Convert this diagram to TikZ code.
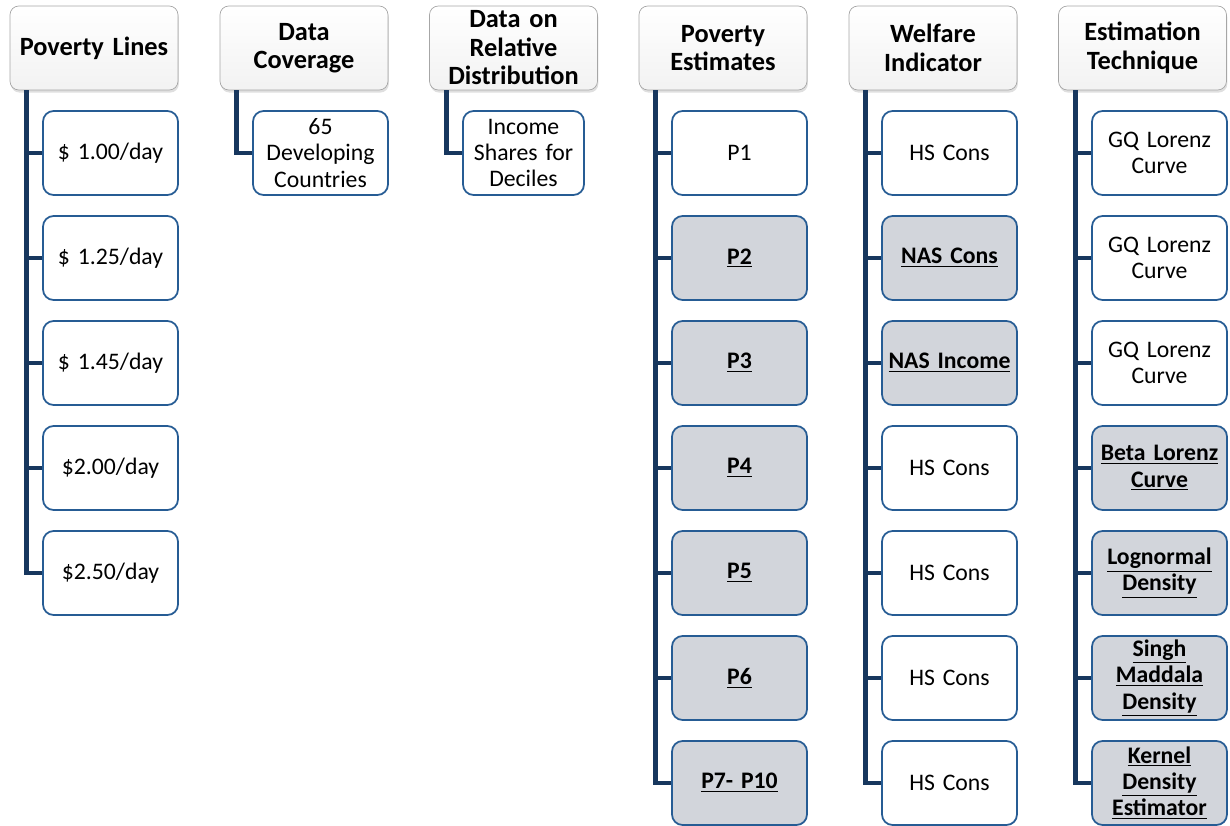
\documentclass[tikz,border=0pt]{standalone}
\usepackage{fontspec}
\setmainfont{Carlito}
\usetikzlibrary{positioning,calc,shadows}

\definecolor{barblue}{RGB}{23,55,94}
\definecolor{boxblue}{RGB}{38,92,148}
\definecolor{shadegray}{RGB}{210,213,219}

\tikzset{
    head/.style={draw=gray!70, rounded corners=5pt, top color=white, bottom color=gray!10,
        minimum width=3.36cm, minimum height=1.68cm, text width=3.25cm, inner sep=0pt,
        align=center, font=\fontsize{15}{16.2}\selectfont\bfseries,
        drop shadow={opacity=0.25, shadow xshift=0.5pt, shadow yshift=-1.5pt}},
    leaf/.style={draw=boxblue, line width=1pt, rounded corners=6pt, fill=white,
        minimum width=2.7cm, minimum height=1.68cm, text width=2.6cm, inner sep=0pt,
        align=center, font=\fontsize{13.5}{15}\selectfont},
    hot/.style={leaf, fill=shadegray, font=\fontsize{13.5}{15}\selectfont\bfseries},
    bar/.style={barblue, line width=2.8pt}
}

\begin{document}
\begin{tikzpicture}[x=0.02cm, y=-0.02cm]
    \useasboundingbox (0,0) rectangle (1230,825);

    % Headers
    \node[head] (pl) at (94,48) {Poverty Lines};
    \node[head] (dc) at (304,48) {Data\\Coverage};
    \node[head] (rd) at (513.5,48) {Data on\\Relative\\Distribution};
    \node[head] (pe) at (723,48) {Poverty\\Estimates};
    \node[head] (wi) at (933,48) {Welfare\\Indicator};
    \node[head] (et) at (1142.5,48) {Estimation\\Technique};

    % Poverty lines
    \foreach \t [count=\i] in {\$ 1.00/day, \$ 1.25/day, \$ 1.45/day, \$2.00/day, \$2.50/day}
        \node[leaf] (pl\i) at (110.5,48+105*\i) {\t};

    % Coverage and distribution
    \node[leaf] (dc1) at (320.5,153) {65\\Developing\\Countries};
    \node[leaf, minimum width=2.42cm, text width=2.3cm] (rd1) at (523.5,153) {Income\\Shares for\\Deciles};

    % Poverty estimates
    \node[leaf] (pe1) at (739.5,153) {P1};
    \foreach \i in {2,...,6}
        \node[hot] (pe\i) at (739.5,48+105*\i) {\underline{P\i}};
    \node[hot] (pe7) at (739.5,783) {\underline{P7- P10}};

    % Welfare indicator
    \node[leaf] (wi1) at (949.5,153) {HS Cons};
    \node[hot] (wi2) at (949.5,258) {\underline{NAS Cons}};
    \node[hot] (wi3) at (949.5,363) {\underline{NAS Income}};
    \foreach \i in {4,...,7}
        \node[leaf] (wi\i) at (949.5,48+105*\i) {HS Cons};

    % Estimation technique
    \foreach \i in {1,2,3}
        \node[leaf] (et\i) at (1159.5,48+105*\i) {GQ Lorenz\\Curve};
    \node[hot] (et4) at (1159.5,468) {\underline{Beta Lorenz}\\\underline{Curve}};
    \node[hot] (et5) at (1159.5,573) {\underline{Lognormal}\\\underline{Density}};
    \node[hot] (et6) at (1159.5,678) {\underline{Singh}\\\underline{Maddala}\\\underline{Density}};
    \node[hot] (et7) at (1159.5,783) {\underline{Kernel}\\\underline{Density}\\\underline{Estimator}};

    % Connectors
    \foreach \i in {1,...,5}
        \draw[bar] ($(pl.south west)+(17,0)$) |- (pl\i.west);
    \draw[bar] ($(dc.south west)+(17,0)$) |- (dc1.west);
    \draw[bar] ($(rd.south west)+(17,0)$) |- (rd1.west);
    \foreach \c in {pe,wi,et}
        \foreach \i in {1,...,7}
            \draw[bar] ($(\c.south west)+(17,0)$) |- (\c\i.west);

\end{tikzpicture}
\end{document}
